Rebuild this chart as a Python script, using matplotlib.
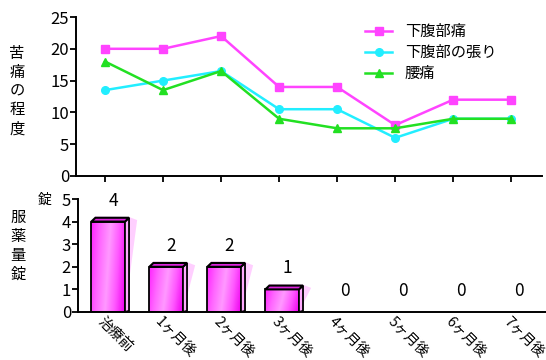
import numpy as np
import matplotlib.pyplot as plt
from matplotlib.patches import Polygon, Rectangle
from matplotlib.colors import LinearSegmentedColormap
from matplotlib.transforms import ScaledTranslation

plt.rcParams['font.family'] = ['Noto Sans CJK JP', 'DejaVu Sans']

# ---- data ----
periods = ["治療前", "1ヶ月後", "2ヶ月後", "3ヶ月後", "4ヶ月後", "5ヶ月後", "6ヶ月後", "7ヶ月後"]
pain_lower = [20, 20, 22, 14, 14, 8, 12, 12]
bloating = [13.5, 15, 16.5, 10.5, 10.5, 6, 9, 9]
back_pain = [18, 13.5, 16.5, 9, 7.5, 7.5, 9, 9]
series_labels = ["下腹部痛", "下腹部の張り", "腰痛"]
tablets = [4, 2, 2, 1, 0, 0, 0, 0]

PINK = "#ff44ff"
CYAN = "#22eeff"
GREEN = "#22e022"

fig = plt.figure(figsize=(5.46, 3.6), dpi=100)
ax_top = fig.add_axes([76 / 546, 1 - 176 / 360, 466 / 546, 159 / 360])
ax_bot = fig.add_axes([78 / 546, 1 - 312 / 360, 468 / 546, 113 / 360])

x = np.arange(len(periods))

# ---- pain scores ----
ax_top.plot(x, pain_lower, color=PINK, lw=1.8, marker="s", ms=5.5, label=series_labels[0])
ax_top.plot(x, bloating, color=CYAN, lw=1.8, marker="o", ms=5.5, label=series_labels[1])
ax_top.plot(x, back_pain, color=GREEN, lw=1.8, marker="^", ms=6, label=series_labels[2])
ax_top.set_xlim(-0.5, 7.53)
ax_top.set_ylim(0, 25)
ax_top.set_yticks([0, 5, 10, 15, 20, 25])
ax_top.set_xticks(x)
ax_top.set_xticklabels([])
ax_top.tick_params(axis="both", direction="out", length=4, width=1.3, labelsize=12, pad=1)
for side in ("top", "right"):
    ax_top.spines[side].set_visible(False)
for side in ("left", "bottom"):
    ax_top.spines[side].set_linewidth(1.4)
ax_top.legend(loc="upper left", bbox_to_anchor=(0.62, 0.96), frameon=False,
              fontsize=11, handlelength=1.8, labelspacing=0.25, borderpad=0,
              borderaxespad=0, handletextpad=0.8)

fig.text(17 / 546, 1 - 91 / 360, "苦\n痛\nの\n程\n度", ha="center", va="center",
         fontsize=11, linespacing=1.15)

# ---- tablets, drawn as pseudo-3D bars ----
ax_bot.set_xlim(-0.52, 7.55)
ax_bot.set_ylim(0, 5)
half = 0.29
dx, dy = 0.07, 0.17
grad = LinearSegmentedColormap.from_list("bar", ["#ff22ff", "#ff66ff", "#ff99ff", "#ff55ff", "#ee00ee"])
gx, gy = np.meshgrid(np.linspace(0, 1, 60), np.linspace(0, 1, 60))
shade = np.clip(gx * 0.85 + (1 - gy) * 0.15, 0, 1)

for xi, v in zip(x, tablets):
    if v > 0:
        left, right = xi - half, xi + half
        # translucent glow behind the bar
        ax_bot.add_patch(Polygon([(right, 0), (xi + 0.5, v + dy * 0.4), (right + dx, v + dy * 1.2),
                                  (left + dx, v + dy * 1.4), (left, v)],
                                 closed=True, facecolor="#ffb0ff", edgecolor="none", alpha=0.6, zorder=1))
        front = Rectangle((left, 0), 2 * half, v, facecolor="none", edgecolor="black", lw=1.3, zorder=4)
        ax_bot.add_patch(front)
        im = ax_bot.imshow(shade, cmap=grad, extent=(left, right, 0, v), aspect="auto",
                           origin="lower", zorder=3, interpolation="bilinear")
        im.set_clip_path(front)
        ax_bot.add_patch(Polygon([(right, 0), (right + dx, dy * 0.3), (right + dx, v + dy), (right, v)],
                                 closed=True, facecolor="#ffaaff", edgecolor="black", lw=1.3, zorder=4))
        ax_bot.add_patch(Polygon([(left, v), (left + dx, v + dy), (right + dx, v + dy), (right, v)],
                                 closed=True, facecolor="#dd22dd", edgecolor="black", lw=1.5, zorder=5))
    ax_bot.annotate(str(v), (xi, v), xytext=(5, 21), textcoords="offset pixels",
                    ha="center", va="center", fontsize=12.5)

ax_bot.set_yticks([0, 1, 2, 3, 4, 5])
ax_bot.set_xticks(x)
ax_bot.set_xticklabels(periods, rotation=-45, ha="left", va="top", rotation_mode="anchor", fontsize=10.3)
ax_bot.tick_params(axis="y", direction="out", length=4, width=1.3, labelsize=12, pad=1)
ax_bot.tick_params(axis="x", length=0, pad=1.5)
for side in ("top", "right"):
    ax_bot.spines[side].set_visible(False)
for side in ("left", "bottom"):
    ax_bot.spines[side].set_linewidth(1.4)
ax_bot.spines["bottom"].set_zorder(6)

for lbl in ax_bot.get_xticklabels():
    lbl.set_transform(lbl.get_transform() + ScaledTranslation(-0.03, 0, fig.dpi_scale_trans))

fig.text(45 / 546, 1 - 200 / 360, "錠", ha="center", va="center", fontsize=10)
fig.text(18 / 546, 1 - 246 / 360, "服\n薬\n量\n錠", ha="center", va="center",
         fontsize=11, linespacing=1.15)

fig.savefig("out.png", dpi=100)
